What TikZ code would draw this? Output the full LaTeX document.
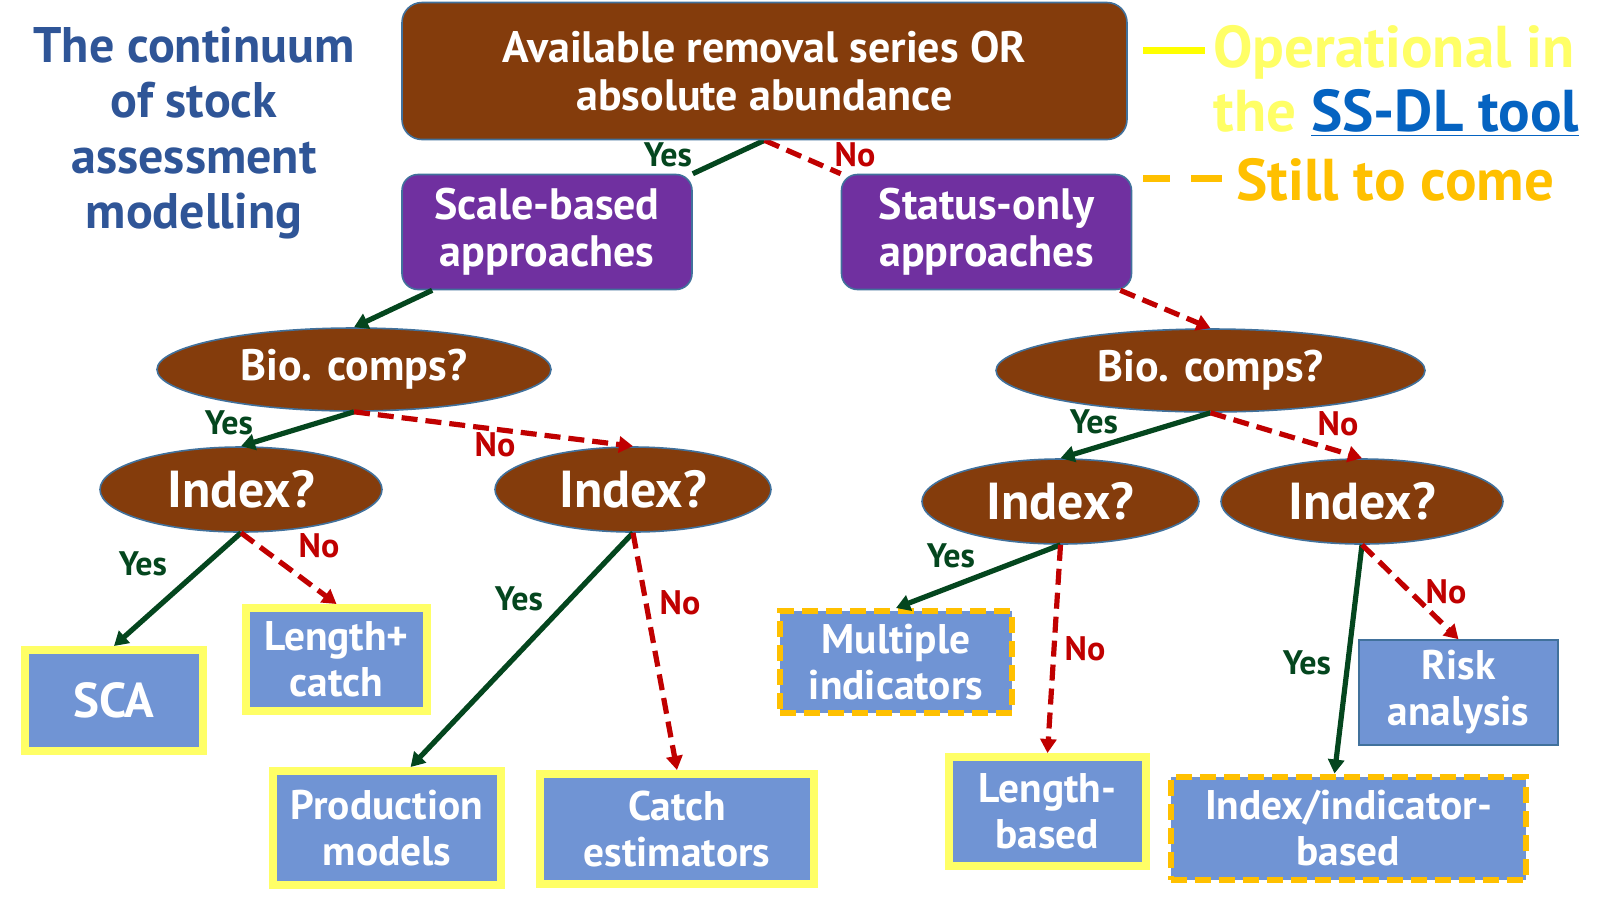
\documentclass[tikz,border=0pt]{standalone}
\usepackage{fontspec}
\setmainfont{PT Sans}
\usetikzlibrary{arrows.meta,positioning,calc,shapes.geometric,backgrounds}

\definecolor{brownbox}{RGB}{132,60,12}
\definecolor{purplebox}{RGB}{112,48,160}
\definecolor{leafblue}{RGB}{112,148,212}
\definecolor{edgeblue}{RGB}{65,113,156}
\definecolor{opyellow}{RGB}{255,255,102}
\definecolor{legyellow}{RGB}{255,255,0}
\definecolor{comeorange}{RGB}{255,192,0}
\definecolor{yesgreen}{RGB}{4,70,30}
\definecolor{nored}{RGB}{192,0,0}
\definecolor{titleblue}{RGB}{47,85,151}
\definecolor{linkblue}{RGB}{5,99,193}

\begin{document}
\begin{tikzpicture}[x=0.5pt,y=-0.5pt,>={Triangle[length=7pt,width=8pt]},
 startbox/.style={draw=edgeblue,line width=0.8pt,fill=brownbox,rounded corners=10pt,text=white,align=center,inner sep=0pt,font=\fontsize{22}{24}\selectfont\bfseries},
 apprbox/.style={draw=edgeblue,line width=0.8pt,fill=purplebox,rounded corners=8pt,text=white,align=center,inner sep=0pt,minimum width=145pt,minimum height=57.5pt,font=\fontsize{22}{23.5}\selectfont\bfseries},
 quest/.style={ellipse,draw=edgeblue,line width=0.8pt,fill=brownbox,text=white,inner sep=0pt},
 leaf/.style={fill=leafblue,text=white,align=center,inner sep=0pt,font=\fontsize{20.7}{23}\selectfont\bfseries},
 donebox/.style={leaf,draw=opyellow,line width=4pt},
 todobox/.style={leaf,draw=comeorange,line width=3pt,dash pattern=on 8pt off 4pt},
 barebox/.style={leaf,draw=edgeblue,line width=0.8pt},
 yesarr/.style={->,draw=yesgreen,line width=2.6pt},
 noarr/.style={->,draw=nored,line width=2.6pt,dash pattern=on 8pt off 4pt},
 yestag/.style={text=yesgreen,inner sep=0pt,font=\fontsize{17}{17}\selectfont\bfseries},
 notag/.style={text=nored,inner sep=0pt,font=\fontsize{17}{17}\selectfont\bfseries}]
\useasboundingbox (0,0) rectangle (1624,902);

% title and legend
\node[align=center,text=titleblue,font=\fontsize{25}{27.8}\selectfont\bfseries] (title) at (194,133) {The continuum\\of stock\\assessment\\modelling};
\draw[legyellow,line width=3.5pt] (1143,50) -- (1205,50);
\draw[comeorange,line width=3.5pt] (1143,178) -- (1170,178) (1191,178) -- (1222,178);
\node[anchor=west,inner sep=0pt,text=opyellow,font=\fontsize{29.5}{29.5}\selectfont\bfseries] (oper) at (1213,52) {Operational in};
\node[anchor=west,inner sep=0pt,text=opyellow,font=\fontsize{29.5}{29.5}\selectfont\bfseries] (tool) at (1213,113) {the \textcolor{linkblue}{\underline{SS-DL tool}}};
\node[anchor=west,inner sep=0pt,text=comeorange,font=\fontsize{29.5}{29.5}\selectfont\bfseries] (come) at (1236,180) {Still to come};

% decision tree
\node[startbox,minimum width=362.5pt,minimum height=68.5pt] (avail) at (764.5,71) {Available removal series OR\\absolute abundance};
\node[apprbox] (scale) at (547,232) {Scale-based\\approaches};
\node[apprbox] (status) at (986.5,232) {Status-only\\approaches};

\node[quest,minimum width=197pt,minimum height=41.5pt,font=\fontsize{22}{22}\selectfont\bfseries] (bioA) at (354,369.5) {Bio. comps?};
\node[quest,minimum width=214.5pt,minimum height=41.5pt,font=\fontsize{22}{22}\selectfont\bfseries] (bioB) at (1210.5,370.5) {Bio. comps?};
\node[quest,minimum width=141pt,minimum height=42.5pt,font=\fontsize{26}{26}\selectfont\bfseries] (idxA) at (241,489.5) {Index?};
\node[quest,minimum width=138pt,minimum height=42.5pt,font=\fontsize{26}{26}\selectfont\bfseries] (idxB) at (633,489.5) {Index?};
\node[quest,minimum width=138.5pt,minimum height=42.5pt,font=\fontsize{26}{26}\selectfont\bfseries] (idxC) at (1060.5,501.5) {Index?};
\node[quest,minimum width=141pt,minimum height=42.5pt,font=\fontsize{26}{26}\selectfont\bfseries] (idxD) at (1362,501.5) {Index?};

\node[donebox,minimum width=89pt,minimum height=50.5pt,font=\fontsize{24.5}{24}\selectfont\bfseries] (sca) at (114,700.5) {SCA};
\node[donebox,minimum width=90.5pt,minimum height=51.5pt] (lencatch) at (336.5,659.5) {Length+\\catch};
\node[donebox,minimum width=114pt,minimum height=57pt] (prod) at (387,828) {Production\\models};
\node[donebox,minimum width=137pt,minimum height=55pt] (catchest) at (677,829) {Catch\\estimators};
\node[todobox,minimum width=116pt,minimum height=51pt] (multi) at (896,662) {Multiple\\indicators};
\node[donebox,minimum width=98.5pt,minimum height=54.5pt] (lenbased) at (1047.5,811.5) {Length-\\based};
\node[barebox,minimum width=99.5pt,minimum height=52.5pt] (risk) at (1458.5,692.5) {Risk\\analysis};
\node[todobox,minimum width=177.5pt,minimum height=51.5pt] (idxbased) at (1348.5,828) {Index/indicator-\\based};

\begin{scope}[on background layer]
\draw[yesarr,-] (avail.south) -- (scale.north east);
\draw[noarr,-] (avail.south) -- (status.north west);
\end{scope}
\draw[yesarr] ($(scale.south west)+(31,0)$) -- (bioA.north);
\draw[noarr] ($(status.south east)+(-12,0)$) -- (bioB.north);
\draw[yesarr] (bioA.south) -- (idxA.north);
\draw[noarr] (bioA.south) -- (idxB.north);
\draw[yesarr] (idxA.south) -- (sca.north);
\draw[noarr] (idxA.south) -- (lencatch.north);
\draw[yesarr] (idxB.south) -- ($(prod.north west)!0.6!(prod.north east)$);
\draw[noarr] (idxB.south) -- (catchest.north);
\draw[yesarr] (bioB.south) -- (idxC.north);
\draw[noarr] (bioB.south) -- (idxD.north);
\draw[yesarr] (idxC.south) -- (multi.north);
\draw[noarr] (idxC.south) -- (lenbased.north);
\draw[yesarr] (idxD.south) -- ($(idxbased.north)+(-14,0)$);
\draw[noarr] (idxD.south) -- (risk.north);

% yes / no tags
\node[yestag] (y1) at (668,155) {Yes};
\node[notag] (n1) at (855,155) {No};
\node[yestag] (y2) at (229,423) {Yes};
\node[notag] (n2) at (495,445) {No};
\node[yestag] (y3) at (143,564) {Yes};
\node[notag] (n3) at (319,546) {No};
\node[yestag] (y4) at (519,599) {Yes};
\node[notag] (n4) at (680,603) {No};
\node[yestag] (y5) at (1094,422) {Yes};
\node[notag] (n5) at (1338,424) {No};
\node[yestag] (y6) at (951,556) {Yes};
\node[notag] (n6) at (1085,649) {No};
\node[yestag] (y7) at (1307,663) {Yes};
\node[notag] (n7) at (1446,592) {No};
\end{tikzpicture}
\end{document}
